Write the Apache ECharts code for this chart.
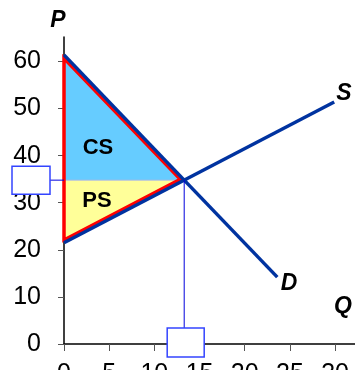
<!DOCTYPE html>
<html><head><meta charset="utf-8">
<script src="https://cdn.jsdelivr.net/npm/echarts@6/dist/echarts.min.js"></script>
<style>html,body{margin:0;padding:0;background:#fff}#c{width:355px;height:370px}</style>
</head><body><div id="c"></div>
<script>
// Tick labels
const xTicks = [0, 5, 10, 15, 20, 25, 30];
const yTicks = [0, 10, 20, 30, 40, 50, 60];
// Demand and supply lines (Q, P)
const demandQ = [0, 23.6];
const demandP = [61.4, 14.2];
const supplyQ = [0, 29.9];
const supplyP = [21.5, 51.4];
// Equilibrium
const eqQ = 13.3;
const eqP = 34.8;
// Surplus areas
const csQ = [0, 0, 13.0];
const csP = [60.7, 34.8, 34.8];
const psQ = [0, 13.0, 0];
const psP = [34.8, 34.8, 22.1];
const outlineQ = [0, 12.87, 0];
const outlineP = [60.7, 34.97, 22.1];

const FONT = 'Liberation Sans';
const zip = (a, b) => a.map((v, i) => [v, b[i]]);

function polySeries(qs, ps, style, z) {
  return {
    type: 'custom', z: z, silent: true,
    data: [[qs[0], ps[0]]],
    renderItem: function (params, api) {
      const pts = zip(qs, ps).map(p => api.coord(p));
      return { type: 'polygon', shape: { points: pts }, style: style };
    }
  };
}

const chart = echarts.init(document.getElementById('c'), null, { renderer: 'canvas' });
chart.setOption({
  animation: false,
  backgroundColor: '#fff',
  grid: { left: 64, right: 0, top: 37, bottom: 26, containLabel: false, outerBoundsMode: 'none' },
  xAxis: {
    type: 'value', min: 0, max: 32.2,
    axisLine: { show: true, onZero: false, lineStyle: { color: '#000', width: 1.5 } },
    axisTick: { show: true, customValues: xTicks, length: 7, lineStyle: { color: '#555', width: 1 } },
    axisLabel: { customValues: xTicks, fontSize: 25, color: '#000', margin: 18, fontFamily: FONT },
    splitLine: { show: false }
  },
  yAxis: {
    type: 'value', min: 0, max: 65.2,
    axisLine: { show: true, onZero: false, lineStyle: { color: '#000', width: 1.5 } },
    axisTick: { show: true, customValues: yTicks, length: 6, lineStyle: { color: '#555', width: 1 } },
    axisLabel: { customValues: yTicks, fontSize: 25, color: '#000', margin: 23, fontFamily: FONT },
    splitLine: { show: false }
  },
  series: [
    polySeries(csQ, csP, { fill: '#66CCFF', stroke: null }, 1),
    polySeries(psQ, psP, { fill: '#FFFF99', stroke: null }, 1),
    {
      type: 'custom', z: 2, silent: true,
      data: [[eqQ, eqP]],
      renderItem: function (params, api) {
        const e = api.coord([eqQ, eqP]);
        const a = api.coord([0, eqP]);
        return { type: 'line', shape: { x1: a[0], y1: a[1], x2: e[0], y2: e[1] },
          style: { stroke: '#a8b8e0', lineWidth: 1 } };
      }
    },
    polySeries(outlineQ, outlineP, { fill: null, stroke: '#FF0000', lineWidth: 3.5, lineJoin: 'miter' }, 3),
    {
      type: 'line', z: 4, symbol: 'none', silent: true,
      data: zip(demandQ, demandP),
      lineStyle: { color: '#0033A0', width: 3.5 }
    },
    {
      type: 'line', z: 4, symbol: 'none', silent: true,
      data: zip(supplyQ, supplyP),
      lineStyle: { color: '#0033A0', width: 3.5 }
    },
    {
      type: 'custom', z: 5, silent: true,
      data: [[eqQ, eqP]],
      renderItem: function (params, api) {
        const e = api.coord([eqQ, eqP]);
        const a = api.coord([0, eqP]);
        const b = api.coord([eqQ, 0]);
        const lx = a[0] - 14;
        const ty = b[1] - 16;
        return {
          type: 'group',
          children: [
            { type: 'line', shape: { x1: lx, y1: a[1], x2: a[0], y2: a[1] }, style: { stroke: '#0000DD', lineWidth: 1 } },
            { type: 'rect', shape: { x: lx - 38, y: a[1] - 14, width: 38, height: 28 }, style: { fill: '#fff', stroke: '#3344FF', lineWidth: 1.5 } },
            { type: 'line', shape: { x1: e[0], y1: e[1], x2: e[0], y2: ty }, style: { stroke: '#0000DD', lineWidth: 1 } },
            { type: 'rect', shape: { x: e[0] - 17, y: ty, width: 37, height: 29 }, style: { fill: '#fff', stroke: '#3344FF', lineWidth: 1.5 } }
          ]
        };
      }
    }
  ],
  graphic: [
    { type: 'text', z: 100, x: 58, y: 21, style: { text: 'P', font: 'italic bold 23px ' + FONT, fill: '#000', align: 'center', verticalAlign: 'middle' } },
    { type: 'text', z: 100, x: 344, y: 94, style: { text: 'S', font: 'italic bold 23px ' + FONT, fill: '#000', align: 'center', verticalAlign: 'middle' } },
    { type: 'text', z: 100, x: 289, y: 284, style: { text: 'D', font: 'italic bold 23px ' + FONT, fill: '#000', align: 'center', verticalAlign: 'middle' } },
    { type: 'text', z: 100, x: 343, y: 307, style: { text: 'Q', font: 'italic bold 23px ' + FONT, fill: '#000', align: 'center', verticalAlign: 'middle' } },
    { type: 'text', z: 100, x: 98, y: 148, style: { text: 'CS', font: 'bold 22px ' + FONT, fill: '#000', align: 'center', verticalAlign: 'middle' } },
    { type: 'text', z: 100, x: 97, y: 201, style: { text: 'PS', font: 'bold 22px ' + FONT, fill: '#000', align: 'center', verticalAlign: 'middle' } }
  ]
});
</script>
</body></html>
